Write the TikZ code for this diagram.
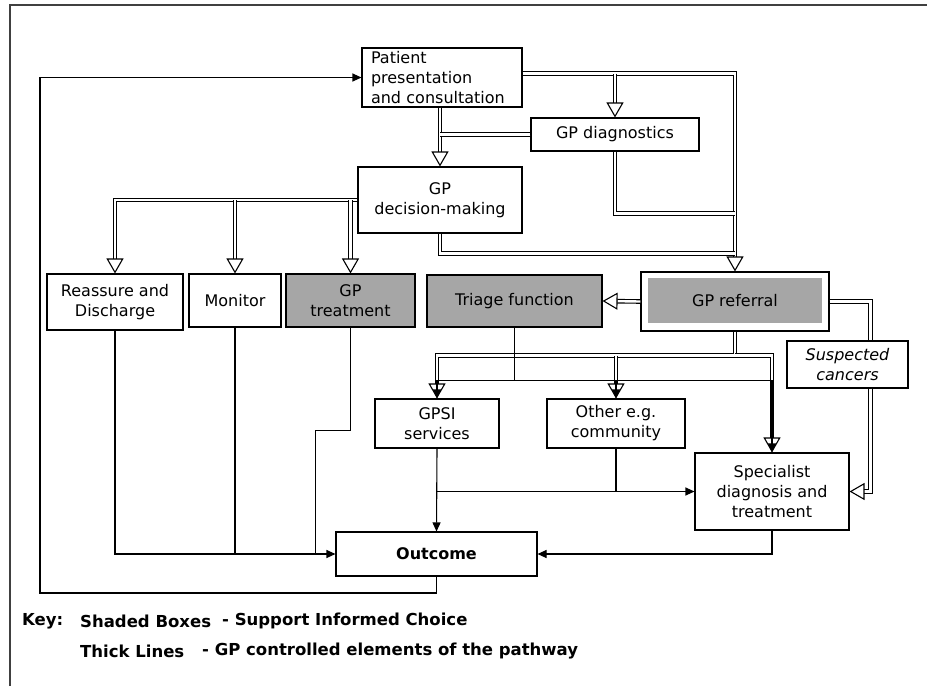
\documentclass[tikz,border=0pt]{standalone}
\usepackage{fontspec}
\setmainfont{DejaVu Sans}
\usetikzlibrary{arrows.meta, positioning, calc}
\definecolor{shade}{RGB}{166,166,166}

\begin{document}
\begin{tikzpicture}[
    x=1pt, y=-1pt,
    font=\fontsize{16}{20}\selectfont,
    box/.style={draw, line width=1.1pt, inner sep=0pt, align=center},
    shaded/.style={box, fill=shade},
    keytext/.style={anchor=west, inner sep=0pt, font=\fontsize{16.5}{20}\selectfont\bfseries},
    arrow/.style={-{Triangle[length=9pt, width=8pt]}, line width=1.1pt},
    gpline/.style={double, double distance=2.4pt, line width=1.1pt},
    gparrow/.style={gpline, -{Triangle[open, length=15pt, width=17pt, line width=1.1pt]}}
]
\useasboundingbox (0,0) rectangle (927,686);

% frame
\draw[line width=1.1pt, black!75] (10,686) -- (10,5) -- (927,5);

% top of the pathway
\node[box, minimum width=160pt, minimum height=59pt, text width=142pt, align=left] (patient) at (442,77.5) {Patient\\presentation\\and consultation};
\node[box, minimum width=168pt, minimum height=33pt] (diag) at (615,134.5) {GP diagnostics};
\node[box, minimum width=164pt, minimum height=66pt] (decision) at (440,200) {GP\\decision-making};

% GP options
\node[box, minimum width=136pt, minimum height=56pt] (reassure) at (115,302) {Reassure and\\Discharge};
\node[box, minimum width=92pt, minimum height=53pt] (monitor) at (235,300.5) {Monitor};
\node[shaded, minimum width=129pt, minimum height=53pt] (treatment) at (350.5,300.5) {GP\\treatment};
\node[shaded, minimum width=175pt, minimum height=52pt] (triage) at (514.5,301) {Triage function};
\node[box, minimum width=188pt, minimum height=59pt] (referral) at (735,301.5) {};
\node[fill=shade, minimum width=174pt, minimum height=45pt, inner sep=0pt] (refcore) at (735,300.5) {GP referral};
\node[box, minimum width=121pt, minimum height=47pt, font=\fontsize{16}{20}\selectfont\itshape] (suspected) at (847.5,364.5) {Suspected\\cancers};

% services
\node[box, minimum width=124pt, minimum height=49pt] (gpsi) at (437,423.5) {GPSI\\services};
\node[box, minimum width=138pt, minimum height=49pt] (other) at (616,423.5) {Other e.g.\\community};
\node[box, minimum width=154pt, minimum height=77pt] (specialist) at (772,491.5) {Specialist\\diagnosis and\\treatment};
\node[box, minimum width=201pt, minimum height=44pt, font=\fontsize{16}{20}\selectfont\bfseries] (outcome) at (436.5,554) {Outcome};

% thick lines (GP controlled)
\draw[gparrow] ([yshift=4pt]patient.east) -| (referral.north);
\draw[gparrow] ([yshift=4pt]patient.east -| diag.north) -- (diag.north);
\draw[gparrow] (patient.south -| decision.north) -- (decision.north);
\draw[gpline] (diag.west) -- (diag.west -| decision.north);
\draw[gpline] (diag.south) |- ([yshift=-62pt]diag.south -| referral.north);
\draw[gpline] (decision.south) |- ([yshift=-20pt]decision.south -| referral.north);
\draw[gparrow] (decision.west) -| (reassure.north);
\draw[gparrow] (decision.west -| monitor.north) -- (monitor.north);
\draw[gparrow] (decision.west -| treatment.north) -- (treatment.north);
\draw[gparrow] (referral.west) -- (triage.east);
\draw[gpline] (referral.east) -| ([xshift=23pt]suspected.north);
\draw[gparrow] ([xshift=23pt]suspected.south) |- (specialist.east);
\draw[gparrow] (referral.south) |- ([yshift=-24pt]referral.south -| gpsi.north) -- (gpsi.north);
\draw[gparrow] ([yshift=-24pt]referral.south -| other.north) -- (other.north);
\draw[gparrow] ([yshift=-24pt]referral.south) -| (specialist.north);

% triage routes
\draw[arrow] (triage.south) |- ([yshift=-53pt]triage.south -| gpsi.north) -- (gpsi.north);
\draw[arrow] ([yshift=-53pt]triage.south -| other.north) -- (other.north);
\draw[arrow] ([yshift=-53pt]triage.south) -| (specialist.north);

% to the outcome
\draw[arrow] (gpsi.south) -- (outcome.north);
\draw[arrow] (gpsi.south |- specialist.west) -- (specialist.west);
\draw[line width=1.1pt] (other.south) -- (other.south |- specialist.west);
\draw[arrow] (specialist.south) |- (outcome.east);
\draw[arrow] (reassure.south) |- (outcome.west);
\draw[line width=1.1pt] (monitor.south) -- (monitor.south |- outcome.west);
\draw[line width=1.1pt] (treatment.south) -- ([yshift=-103pt]treatment.south) -| ([xshift=-20pt]outcome.west);
\coordinate (loop) at (40,593);
\draw[arrow] (outcome.south) |- (loop) |- (patient.west);

% key
\node[keytext] (key) at (22,621) {Key:};
\node[keytext] (keyshade) at (80,621) {Shaded Boxes};
\node[keytext] (keyshadetxt) at (222,621) {- Support Informed Choice};
\node[keytext] (keythick) at (80,651) {Thick Lines};
\node[keytext] (keythicktxt) at (202,651) {- GP controlled elements of the pathway};

\end{tikzpicture}
\end{document}
